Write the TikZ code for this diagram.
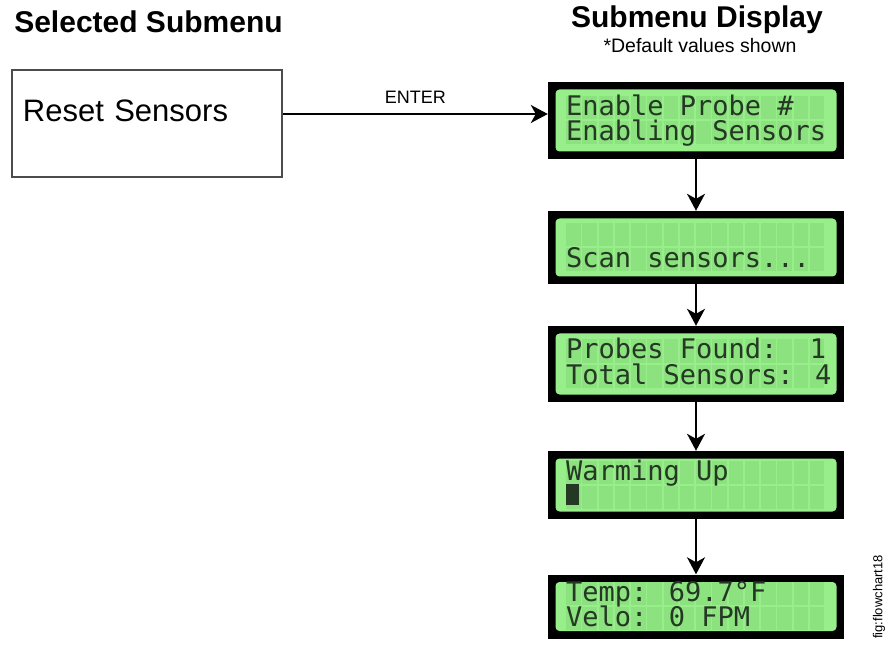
\documentclass[tikz,border=0pt]{standalone}
\usepackage{fontspec}
\setmainfont{Liberation Sans}
\newfontfamily\lcdfont{DejaVu Sans Mono}
\usetikzlibrary{arrows.meta}
\definecolor{lcdgreen}{RGB}{152,238,138}
\definecolor{lcdcell}{RGB}{140,226,126}
\definecolor{lcdink}{RGB}{36,56,36}

\tikzset{
  heading/.style={font=\fontsize{30}{36}\selectfont\bfseries, inner sep=0pt, anchor=base},
  menubox/.style={draw=black!70, line width=1.5pt, minimum height=107pt,
    text width=248pt, inner xsep=11pt, align=left, text depth=25pt,
    font=\fontsize{31}{36}\selectfont},
  lcd/.style={fill=black, minimum width=296pt, inner sep=0pt,
    path picture={
      \fill[lcdgreen, rounded corners=4pt]
        ([shift={(7.5pt,-7.5pt)}]path picture bounding box.north west) rectangle
        ([shift={(-7.5pt,7.5pt)}]path picture bounding box.south east);
      \foreach \col in {0,...,15}
        \foreach \row in {0,1}
          \fill[lcdcell] ([shift={(18pt+\col*16.25pt,24.5pt-\row*25pt)}]path picture bounding box.west)
            rectangle ++(14.5pt,-23pt);
    }},
  lcdtext/.style={font={\lcdfont\fontsize{27}{27}\selectfont}, text=lcdink, inner sep=0pt, anchor=base west},
  flow/.style={-{Stealth[length=17pt,width=18pt,inset=5pt]}, line width=2pt},
}

\begin{document}
\begin{tikzpicture}[x=1pt,y=-1pt]
\useasboundingbox (0,0) rectangle (895,647);

\node[heading] (selected) at (148.5,33) {Selected Submenu};
\node[heading] (display) at (697,28) {Submenu Display};
\node[font=\fontsize{19.5}{22}\selectfont, inner sep=0pt, anchor=base] (note) at (700,53) {*Default values shown};

\node[menubox] (reset) at (147,123.5) {Reset Sensors};

\foreach \y/\h/\a/\b [count=\i] in {
    120.5/77/{Enable Probe \#}/{Enabling Sensors},
    247.5/73/{}/{Scan sensors...},
    364/76/{Probes Found:~~1}/{Total Sensors: 4},
    485/68/{Warming Up}/{\rule{13pt}{21pt}},
    606.5/64/{Temp: 69.7°F}/{Velo: 0 FPM}}
{
  \node[lcd, minimum height=\h pt] (lcd\i) at (696,\y) {};
  \node[lcdtext] at ([shift={(18pt,5pt)}]lcd\i.west) {\a};
  \node[lcdtext] at ([shift={(18pt,-20pt)}]lcd\i.west) {\b};
}

\draw[flow] ([yshift=9.5pt]reset.east) -- ([yshift=9.5pt]reset.east -| lcd1.west)
  node[midway, above=9pt, inner sep=0pt, font=\fontsize{18}{20}\selectfont] {ENTER};
\foreach \i [evaluate=\i as \j using int(\i+1)] in {1,...,4}
  \draw[flow] (lcd\i.south) -- (lcd\j.north);

\node[rotate=90, font=\fontsize{13}{15}\selectfont] (figlabel) at (879,597) {fig:flowchart18};
\end{tikzpicture}
\end{document}
